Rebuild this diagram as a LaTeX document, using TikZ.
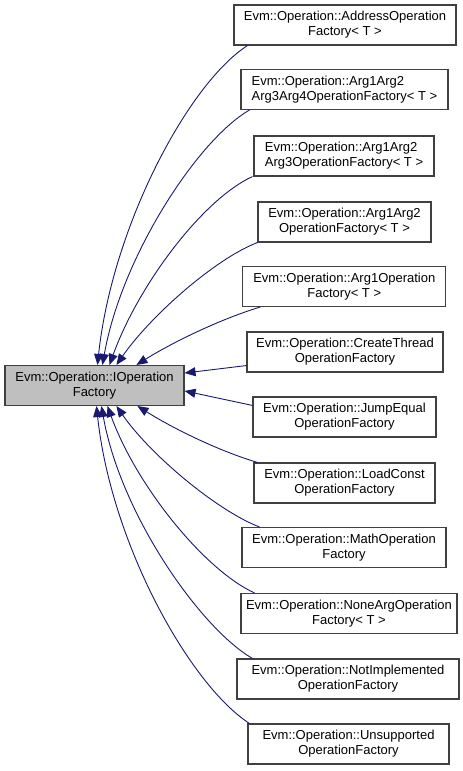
\documentclass[tikz,border=0pt]{standalone}
\usepackage{fontspec}
\setmainfont{Liberation Sans}
\usetikzlibrary{arrows.meta,calc}
\definecolor{edgeblue}{HTML}{191970}
\definecolor{boxline}{HTML}{404040}
\definecolor{mainfill}{HTML}{BFBFBF}
\begin{document}
\begin{tikzpicture}[x=1pt,y=1pt,
  cls/.style={draw=boxline,line width=1.1pt,fill=white,rectangle,inner sep=0pt,minimum height=40pt,align=center,font=\fontsize{13}{15}\selectfont},
  clsl/.style={cls,align=left},
  base/.style={cls,fill=mainfill},
  edge/.style={draw=edgeblue,line width=0.9pt,-{Triangle[length=11pt,width=9pt]},fill=none},
]
\useasboundingbox (0,0) rectangle (463,771);
\node[base,minimum width=179pt] (main) at (94.5,385.5) {Evm::Operation::IOperation\\Factory};
\node[cls,minimum width=222pt] (c1) at (345,746) {Evm::Operation::AddressOperation\\Factory< T >};
\node[clsl,minimum width=207pt] (c2) at (344.5,681.5) {Evm::Operation::Arg1Arg2\\Arg3Arg4OperationFactory< T >};
\node[clsl,minimum width=180pt] (c3) at (344,615) {Evm::Operation::Arg1Arg2\\Arg3OperationFactory< T >};
\node[cls,minimum width=173pt] (c4) at (344.5,549) {Evm::Operation::Arg1Arg2\\OperationFactory< T >};
\node[cls,minimum width=203pt] (c5) at (344.3,484.5) {Evm::Operation::Arg1Operation\\Factory< T >};
\node[cls,minimum width=196pt] (c6) at (345,419) {Evm::Operation::CreateThread\\OperationFactory};
\node[cls,minimum width=183pt] (c7) at (344.5,354) {Evm::Operation::JumpEqual\\OperationFactory};
\node[cls,minimum width=181pt] (c8) at (344.5,288) {Evm::Operation::LoadConst\\OperationFactory};
\node[cls,minimum width=204pt] (c9) at (344,223.5) {Evm::Operation::MathOperation\\Factory};
\node[cls,minimum width=216pt] (c10) at (349,157.5) {Evm::Operation::NoneArgOperation\\Factory< T >};
\node[cls,minimum width=222pt] (c11) at (348,92) {Evm::Operation::NotImplemented\\OperationFactory};
\node[cls,minimum width=201pt] (c12) at (348.5,27) {Evm::Operation::Unsupported\\OperationFactory};
% upper edges
\draw[edge] ($(c1.south west)+(14,0)$) .. controls +(-59,-38) and +(15,139) .. ($(main.north west)+(93,0)$);
\draw[edge] ($(c2.south west)+(9,0)$) .. controls +(-52,-30) and +(19,108) .. ($(main.north west)+(98,0)$);
\draw[edge] ($(c3.south west)+(-1,0)$) .. controls +(-50,-23) and +(29,80) .. ($(main.north west)+(105,0)$);
\draw[edge] ($(c4.south west)+(0,0)$) .. controls +(-42,-16) and +(34,49) .. ($(main.north west)+(112,0)$);
\draw[edge] ($(c5.south west)+(18,0)$) .. controls +(-40,-12) and +(35,22) .. ($(main.north west)+(132,0)$);
\draw[edge] ($(c6.south west)+(0,7)$) -- ($(main.south east)+(0,33)$);
\draw[edge] ($(c7.north west)+(0,-9)$) -- ($(main.north east)+(0,-26)$);
% lower edges
\draw[edge] ($(c8.north west)+(4,0)$) .. controls +(-40,12) and +(35,-22) .. ($(main.south west)+(133,0)$);
\draw[edge] ($(c9.north west)+(18,0)$) .. controls +(-42,16) and +(34,-49) .. ($(main.south west)+(112,0)$);
\draw[edge] ($(c10.north west)+(14,0)$) .. controls +(-50,23) and +(29,-80) .. ($(main.south west)+(103,0)$);
\draw[edge] ($(c11.north west)+(16,0)$) .. controls +(-52,30) and +(19,-108) .. ($(main.south west)+(97,0)$);
\draw[edge] ($(c12.north west)+(2,0)$) .. controls +(-59,38) and +(15,-139) .. ($(main.south west)+(92,0)$);
\end{tikzpicture}
\end{document}
